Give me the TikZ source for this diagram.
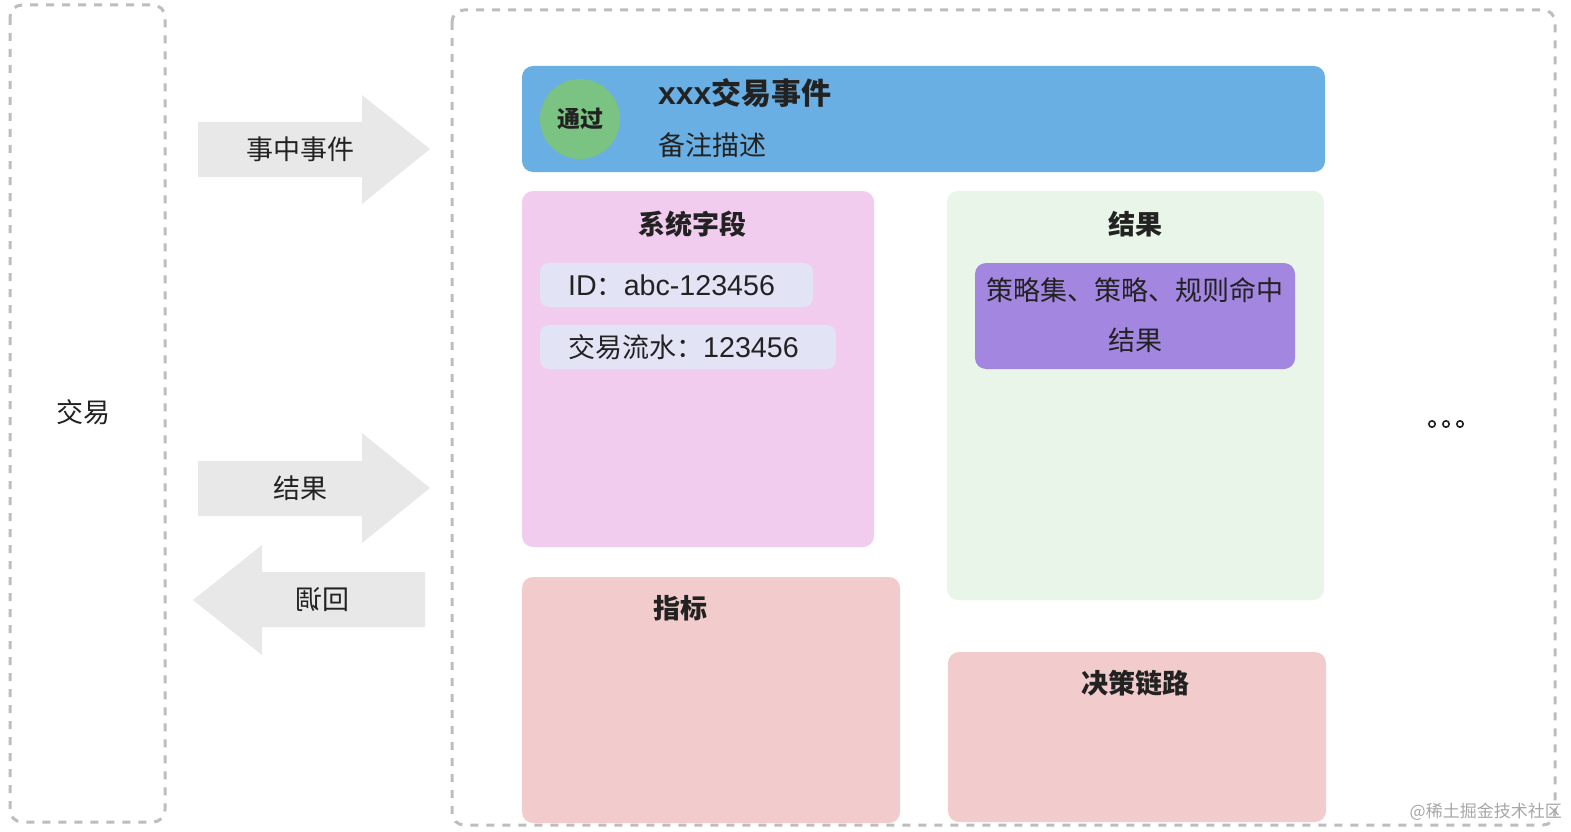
\documentclass[tikz,border=0pt]{standalone}
\usepackage{fontspec}
\setmainfont{Noto Sans CJK SC}
\newfontfamily\lat[Scale=1.06]{Liberation Sans}
\usetikzlibrary{positioning}
\definecolor{dashgray}{HTML}{BDBDBD}
\definecolor{arrowgray}{HTML}{E8E8E8}
\definecolor{hdrblue}{HTML}{69AFE3}
\definecolor{passgreen}{HTML}{7BC382}
\definecolor{syspink}{HTML}{F2CCEE}
\definecolor{fieldlav}{HTML}{E2E4F6}
\definecolor{resgreen}{HTML}{E8F5E8}
\definecolor{respurple}{HTML}{A386E0}
\definecolor{rose}{HTML}{F2CCCD}
\definecolor{txt}{HTML}{222222}
\tikzset{
  dashbox/.style={draw=dashgray, line width=3pt, dash pattern=on 8pt off 8pt, rounded corners=12pt},
  panel/.style={rounded corners=11pt},
  bigarrow/.style={fill=arrowgray, draw=none},
  lbl/.style={text=txt, font=\fontsize{27}{32}\selectfont, inner sep=0pt},
  ttl/.style={text=txt, font=\fontsize{27}{32}\selectfont\bfseries, inner sep=0pt},
}
\begin{document}
\begin{tikzpicture}[x=1pt, y=-1pt]
\useasboundingbox (0,0) rectangle (1571,832);
% outer dashed containers
\draw[dashbox] (10,5) rectangle (165,822);
\draw[dashbox] (452,10) rectangle (1555,825);
\node[lbl] (jy) at (83,412) {交易};

% arrows
\fill[bigarrow] (198,122) -- (362,122) -- (362,95) -- (430,149) -- (362,204) -- (362,177) -- (198,177) -- cycle;
\node[lbl] (a1) at (300,149) {事中事件};
\fill[bigarrow] (198,461) -- (362,461) -- (362,433) -- (430,488) -- (362,543) -- (362,516) -- (198,516) -- cycle;
\node[lbl] (a2) at (300,488) {结果};
\fill[bigarrow] (425,572) -- (262,572) -- (262,545) -- (193,600) -- (262,655) -- (262,627) -- (425,627) -- cycle;
\node[lbl, xscale=-1, transform shape] (a3) at (322,600) {回调};

% header
\fill[hdrblue, panel] (522,66) rectangle (1325,172);
\fill[passgreen] (580,119) circle (40);
\node[text=txt, font=\fontsize{23}{27}\selectfont\bfseries, inner sep=0pt] (pass) at (580,119) {通过};
\node[text=txt, font=\fontsize{30}{34}\selectfont\bfseries, inner sep=0pt, anchor=west] (evt) at (658,93) {{\lat\bfseries xxx}交易事件};
\node[lbl, anchor=west] (note) at (658,145) {备注描述};

% system fields
\fill[syspink, panel] (522,191) rectangle (874,547);
\node[ttl] (sys) at (692,224) {系统字段};
\fill[fieldlav, rounded corners=9pt] (540,263) rectangle (813,307);
\node[lbl, anchor=west] (id) at (568,285) {{\lat ID}：{\lat abc-123456}};
\fill[fieldlav, rounded corners=9pt] (540,325) rectangle (836,369);
\node[lbl, anchor=west] (flow) at (568,347) {交易流水：{\lat 123456}};

% result
\fill[resgreen, panel] (947,191) rectangle (1324,600);
\node[ttl] (res) at (1135,224) {结果};
\fill[respurple, rounded corners=11pt] (975,263) rectangle (1295,369);
\node[lbl] (r1) at (1135,290) {策略集、策略、规则命中};
\node[lbl] (r2) at (1135,340) {结果};

% metrics
\fill[rose, panel] (522,577) rectangle (900,823);
\node[ttl] (zb) at (680,608) {指标};

% decision chain
\fill[rose, panel] (948,652) rectangle (1326,822);
\node[ttl] (jc) at (1135,683) {决策链路};

% ellipsis
\foreach \xx in {1432,1446,1460} \draw[txt, line width=1.6pt] (\xx,424) circle (3.2);

% watermark
\node[text=black!35, font=\fontsize{17}{20}\selectfont, inner sep=0pt, anchor=east] (wm) at (1562,812) {@稀土掘金技术社区};
\end{tikzpicture}
\end{document}
